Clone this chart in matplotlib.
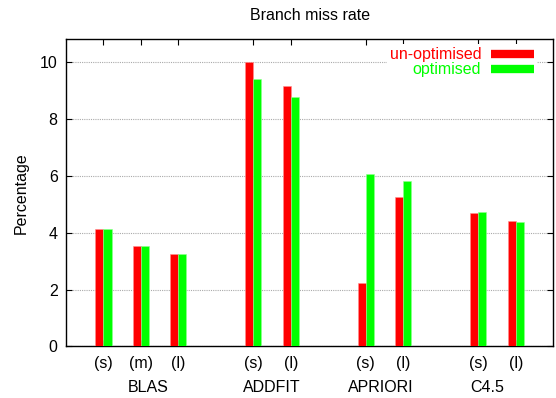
import matplotlib
matplotlib.use("Agg")
import matplotlib.pyplot as plt
from matplotlib.lines import Line2D
from matplotlib.transforms import blended_transform_factory
import numpy as np

plt.rcParams['font.family'] = ['Liberation Sans', 'DejaVu Sans']

# Benchmark groups and input sizes
groups = ["BLAS", "ADDFIT", "APRIORI", "C4.5"]
sizes = [["(s)", "(m)", "(l)"], ["(s)", "(l)"], ["(s)", "(l)"], ["(s)", "(l)"]]

# Branch miss rate (%) per benchmark / input size
unoptimised = [4.13, 3.52, 3.24, 10.0, 9.17, 2.24, 5.24, 4.68, 4.40]
optimised = [4.13, 3.53, 3.24, 9.40, 8.77, 6.08, 5.82, 4.72, 4.39]

# Bar slots: consecutive within a group, one empty slot between groups
positions = []
slot = 1
for s in sizes:
    for _ in s:
        positions.append(slot)
        slot += 1
    slot += 1
positions = np.array(positions, dtype=float)
tick_labels = [lab for s in sizes for lab in s]
group_label_x = [2.2, 5.5, 8.4, 11.25]

RED = "#ff0000"
GREEN = "#00ff00"
FS = 11.5

fig = plt.figure(figsize=(5.56, 3.98), dpi=100)
ax = fig.add_axes([0.1187, 0.1294, 0.9951 - 0.1187, 0.9013 - 0.1294])

w = 0.214
ax.bar(positions - w / 2, unoptimised, width=w, color=RED, zorder=3,
       edgecolor="#ff9090", linewidth=0.4)
ax.bar(positions + w / 2, optimised, width=w, color=GREEN, zorder=3,
       edgecolor="#90ff90", linewidth=0.4)

ax.set_xlim(0, 13)
ax.set_ylim(0, 10.8)
ax.set_yticks(np.arange(0, 11, 2))
ax.set_xticks(positions)
ax.set_xticklabels(tick_labels)
ax.tick_params(axis="both", direction="in", top=True, right=True, length=4,
               width=0.8, labelsize=FS, pad=7)
ax.tick_params(axis="y", pad=6)

ax.yaxis.grid(True, linestyle=(0, (1, 1)), color="#aaaaaa", linewidth=0.8, zorder=0)
ax.set_axisbelow(True)
for sp in ax.spines.values():
    sp.set_linewidth(1.0)

trans = blended_transform_factory(ax.transData, ax.transAxes)
for name, gx in zip(groups, group_label_x):
    ax.text(gx, -0.134, name, transform=trans, ha="center", va="center", fontsize=FS)

ax.set_ylabel("Percentage", fontsize=FS, labelpad=8)
ax.set_title("Branch miss rate", fontsize=FS, pad=14)

handles = [Line2D([0], [0], color=RED, lw=6, solid_capstyle="butt"),
           Line2D([0], [0], color=GREEN, lw=6, solid_capstyle="butt")]
leg = ax.legend(handles, ["un-optimised", "optimised"], loc="upper right",
                markerfirst=False, labelcolor="linecolor", fontsize=FS,
                frameon=True, fancybox=False, framealpha=1, edgecolor="none",
                handlelength=2.7, handletextpad=0.6, labelspacing=0.0,
                borderpad=0.2, borderaxespad=0.3, bbox_to_anchor=(0.977, 1.0))
leg.get_frame().set_linewidth(0)

fig.savefig("out.png", dpi=100)
